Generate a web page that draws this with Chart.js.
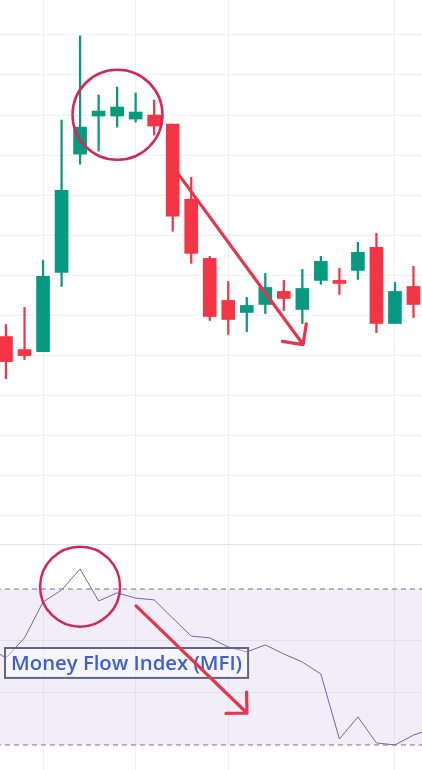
<!DOCTYPE html>
<html lang="en">
<head>
  <meta charset="UTF-8" />
  <title>Candles + MFI</title>
  <script src="https://cdn.jsdelivr.net/npm/chart.js"></script>
  <style>
    *{margin:0;padding:0;box-sizing:border-box}
    html,body{width:422px;height:770px;background:#fff;overflow:hidden}
    #priceChart{position:absolute;left:0;top:0}
    #mfiChart{position:absolute;left:0;top:544px}
  </style>
</head>
<body>
  <canvas id="priceChart" width="422" height="544"></canvas>
  <canvas id="mfiChart" width="422" height="226"></canvas>

  <script>
    // candles, one per bar index 0..22
    const opens  = [54.75, 51.5, 51, 70.75, 100.25, 109.75, 109.75, 109, 110, 107.75, 89, 74.25, 63.75, 60.75, 62.75, 66, 61.5, 68.75, 68.75, 71.25, 77, 58, 67.25];
    const highs  = [57.75, 62, 73.75, 108.75, 129.75, 115, 117, 115.5, 113.75, 107.75, 94.5, 74.75, 68.5, 64.5, 70.5, 68.75, 71.5, 74.75, 71.75, 78.25, 80.5, 68.25, 72.25];
    const lows   = [44.25, 49, 51, 67.25, 97.75, 101, 107, 108.25, 105, 81, 73, 58.75, 55.25, 56, 60.5, 61.25, 58, 67.75, 65.25, 69, 55.75, 58, 59.5];
    const closes = [48.5, 50, 69.75, 91.25, 107, 111, 112, 110.75, 107.25, 84.75, 75.5, 59.75, 59, 62.5, 67, 64.25, 66.75, 73.5, 68, 75.75, 58, 66, 62.75];

    // MFI, first value belongs to bar index -1
    const mfi = [57.7, 53.5, 61.2, 75, 79.6, 87.7, 75.4, 78.5, 76.5, 75.8, 68.8, 61.9, 61.2, 57.7, 55.8, 58.5, 55, 51.9, 47.3, 22.3, 30.8, 20.8, 20, 23.8, 26.2];
    const mfiBands = [80, 20];

    // grid lines
    const priceGrid = [10, 20, 30, 40, 50, 60, 70, 80, 90, 100, 110, 120, 130];
    const timeGrid = [2, 7, 12, 21];
    const mfiGrid = [40, 60];

    const UP = '#089981', DOWN = '#f23645';
    const GRID = '#eff1f4';
    const X_MIN = -0.324, X_MAX = 22.46;

    const candleColors = opens.map((o, i) => closes[i] >= o ? UP : DOWN);

    // label box, then arrows, then circles; placed in data coordinates
    const markup = {
      id: 'markup',
      afterDraw(chart, args, opts) {
        const ctx = chart.ctx, xs = chart.scales.x, ys = chart.scales.y;
        const px = (x, y) => [xs.getPixelForValue(x), ys.getPixelForValue(y)];
        ctx.save();
        if (opts.box) {
          const [l, t] = px(opts.box.from[0], opts.box.from[1]);
          const [r, b] = px(opts.box.to[0], opts.box.to[1]);
          ctx.fillStyle = 'rgba(255,255,255,0.35)';
          ctx.fillRect(l, t, r - l, b - t);
          ctx.strokeStyle = '#5d6782';
          ctx.lineWidth = 2;
          ctx.strokeRect(l, t, r - l, b - t);
          // fit the label inside the box with ~6px side gaps
          ctx.font = '600 20px "Open Sans"';
          const size = 20 * (r - l - 12) / ctx.measureText(opts.box.text).width;
          ctx.font = '600 ' + size.toFixed(2) + 'px "Open Sans"';
          ctx.fillStyle = '#3a60d4';
          ctx.textAlign = 'center';
          ctx.textBaseline = 'middle';
          ctx.fillText(opts.box.text, (l + r) / 2, (t + b) / 2 + 1);
        }
        (opts.arrows || []).forEach(a => {
          const [x0, y0] = px(a.from[0], a.from[1]);
          const [x1, y1] = px(a.to[0], a.to[1]);
          const ang = Math.atan2(y1 - y0, x1 - x0);
          ctx.strokeStyle = '#e6364c';
          ctx.lineWidth = 3.2;
          ctx.lineCap = 'round';
          ctx.beginPath();
          ctx.moveTo(x0, y0);
          ctx.lineTo(x1, y1);
          [-1, 1].forEach(s => {
            const b = ang + Math.PI + s * Math.PI / 4;
            ctx.moveTo(x1, y1);
            ctx.lineTo(x1 + 21 * Math.cos(b), y1 + 21 * Math.sin(b));
          });
          ctx.stroke();
        });
        (opts.circles || []).forEach(c => {
          const [cx, cy] = px(c.at[0], c.at[1]);
          ctx.strokeStyle = '#d3275a';
          ctx.lineWidth = 2.5;
          ctx.beginPath();
          ctx.arc(cx, cy, c.r, 0, Math.PI * 2);
          ctx.stroke();
        });
        ctx.restore();
      }
    };

    const xAxis = (extra) => Object.assign({
      type: 'linear', min: X_MIN, max: X_MAX, offset: false,
      afterBuildTicks: s => { s.ticks = timeGrid.map(v => ({ value: v })); },
      ticks: { display: false },
      grid: { color: GRID, drawTicks: false, offset: false },
      border: { display: false }
    }, extra || {});

    new Chart(document.getElementById('priceChart'), {
      type: 'bar',
      data: {
        datasets: [
          {
            label: 'body',
            data: opens.map((o, i) => ({ x: i, y: [o, closes[i]] })),
            backgroundColor: candleColors,
            barThickness: 13,
            grouped: false,
            borderWidth: 0,
            borderSkipped: false,
            order: 0
          },
          {
            label: 'wick',
            data: highs.map((h, i) => ({ x: i, y: [lows[i], h] })),
            backgroundColor: candleColors,
            barThickness: 1.6,
            grouped: false,
            borderWidth: 0,
            borderSkipped: false,
            order: 1
          }
        ]
      },
      options: {
        responsive: false,
        animation: false,
        layout: { padding: 0 },
        scales: {
          x: xAxis(),
          y: {
            min: 3, max: 138.7,
            afterBuildTicks: s => { s.ticks = priceGrid.map(v => ({ value: v })); },
            ticks: { display: false },
            grid: { color: GRID, drawTicks: false },
            border: { display: false }
          }
        },
        plugins: {
          legend: { display: false },
          tooltip: { enabled: false },
          markup: {
            circles: [{ at: [6.02, 110.06], r: 45 }],
            arrows: [{ from: [9.13, 96.4], to: [16.04, 52.75] }]
          }
        }
      },
      plugins: [markup]
    });

    const bandSet = (v, fill) => ({
      data: [{ x: -2, y: v }, { x: 25, y: v }],
      borderColor: '#72757f',
      borderWidth: 1,
      borderDash: [5, 4],
      pointRadius: 0,
      fill: fill,
      backgroundColor: 'rgba(126,87,194,0.1)',
      order: 2
    });

    new Chart(document.getElementById('mfiChart'), {
      type: 'line',
      data: {
        datasets: [
          {
            label: 'MFI',
            data: mfi.map((v, i) => ({ x: i - 1, y: v })),
            borderColor: '#7263b0',
            borderWidth: 1,
            pointRadius: 0,
            tension: 0,
            fill: false,
            order: 0
          },
          bandSet(mfiBands[0], '+1'),
          bandSet(mfiBands[1], false)
        ]
      },
      options: {
        responsive: false,
        animation: false,
        layout: { padding: 0 },
        scales: {
          x: xAxis({ position: 'top', border: { display: true, color: '#e0e3e8', width: 1 } }),
          y: {
            min: 10.38, max: 97.31,
            afterBuildTicks: s => { s.ticks = mfiGrid.map(v => ({ value: v })); },
            ticks: { display: false },
            grid: { color: GRID, drawTicks: false },
            border: { display: false }
          }
        },
        plugins: {
          legend: { display: false },
          tooltip: { enabled: false },
          markup: {
            circles: [{ at: [4.0, 80.9], r: 40 }],
            arrows: [{ from: [7.02, 73.5], to: [13.01, 32.3] }],
            box: { from: [-0.054, 57.3], to: [13.07, 45.8], text: 'Money Flow Index (MFI)' }
          }
        }
      },
      plugins: [markup]
    });
  </script>
</body>
</html>
